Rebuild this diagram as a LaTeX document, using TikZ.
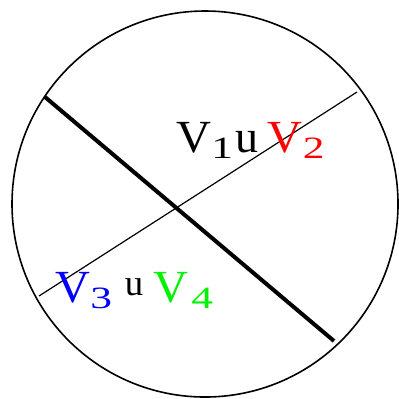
\documentclass[tikz,border=0pt]{standalone}
\usepackage{fontspec}
\setmainfont{Liberation Serif}
\usetikzlibrary{positioning}
\definecolor{vred}{rgb}{1,0,0}
\definecolor{vblue}{rgb}{0,0,1}
\definecolor{vgreen}{rgb}{0,0.95,0}
\tikzset{
rim/.style={draw,line width=.8pt},
cutthick/.style={line width=2pt},
cutthin/.style={line width=.6pt},
setlabel/.style={anchor=base west,inner sep=0pt,font=\fontsize{23}{27}\selectfont}
}
\newcommand{\vset}{\scalebox{1.05}[1]{V}}
\newcommand{\vsub}[1]{\raisebox{-3pt}{\scalebox{1.4}[1]{\fontsize{15.5}{18}\selectfont #1}}}
\newcommand{\smallu}{\raisebox{3.5pt}{\fontsize{18.4}{22}\selectfont u}}

\begin{document}
\begin{tikzpicture}[x=.5pt,y=-.5pt]
\useasboundingbox (0,0) rectangle (399,398);
\draw[rim] (205,204) circle[radius=96.5pt];
\coordinate (thickA) at (45,97);
\coordinate (thickB) at (334,341);
\coordinate (thinA) at (39,296);
\coordinate (thinB) at (357,92);
\draw[cutthick] (thickA)--(thickB);
\draw[cutthin] (thinA)--(thinB);

\node[setlabel] (upper) at (176,152) {\vset\vsub{1}\hspace{1.5pt}u\hspace{4.5pt}\textcolor{vred}{\vset\vsub{2}}};
\node[setlabel] (lower) at (55,302) {\textcolor{vblue}{\vset\vsub{3}}\hspace{6.5pt}\smallu\hspace{5pt}\textcolor{vgreen}{\vset\hspace{1.5pt}\vsub{4}}};
\end{tikzpicture}
\end{document}
